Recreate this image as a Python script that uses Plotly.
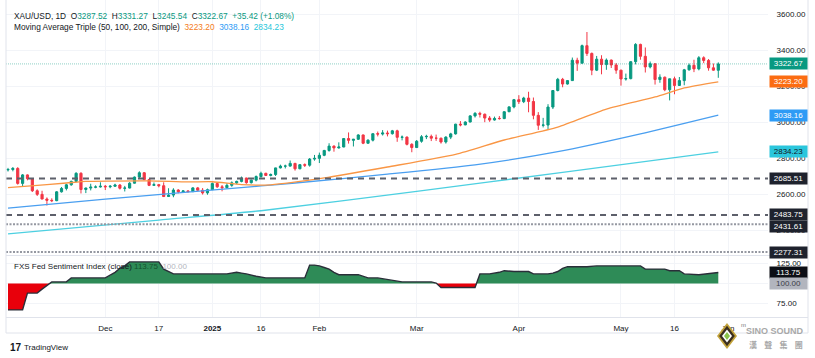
import plotly.graph_objects as go

# ---------------- data ----------------
dates = [
    "2024-11-04","2024-11-05","2024-11-06","2024-11-07","2024-11-08","2024-11-11","2024-11-12","2024-11-13","2024-11-14","2024-11-15",
    "2024-11-18","2024-11-19","2024-11-20","2024-11-21","2024-11-22","2024-11-25","2024-11-26","2024-11-27","2024-11-28","2024-11-29",
    "2024-12-02","2024-12-03","2024-12-04","2024-12-05","2024-12-06","2024-12-09","2024-12-10","2024-12-11","2024-12-12","2024-12-13",
    "2024-12-16","2024-12-17","2024-12-18","2024-12-19","2024-12-20","2024-12-23","2024-12-24","2024-12-25","2024-12-26","2024-12-27",
    "2024-12-30","2024-12-31",
    "2025-01-02","2025-01-03","2025-01-06","2025-01-07","2025-01-08","2025-01-09","2025-01-10","2025-01-13","2025-01-14","2025-01-15",
    "2025-01-16","2025-01-17","2025-01-20","2025-01-21","2025-01-22","2025-01-23","2025-01-24","2025-01-27","2025-01-28","2025-01-29",
    "2025-01-30","2025-01-31",
    "2025-02-03","2025-02-04","2025-02-05","2025-02-06","2025-02-07","2025-02-10","2025-02-11","2025-02-12","2025-02-13","2025-02-14",
    "2025-02-17","2025-02-18","2025-02-19","2025-02-20","2025-02-21","2025-02-24","2025-02-25","2025-02-26","2025-02-27","2025-02-28",
    "2025-03-03","2025-03-04","2025-03-05","2025-03-06","2025-03-07","2025-03-10","2025-03-11","2025-03-12","2025-03-13","2025-03-14",
    "2025-03-17","2025-03-18","2025-03-19","2025-03-20","2025-03-21","2025-03-24","2025-03-25","2025-03-26","2025-03-27","2025-03-28",
    "2025-03-31",
    "2025-04-01","2025-04-02","2025-04-03","2025-04-04","2025-04-07","2025-04-08","2025-04-09","2025-04-10","2025-04-11","2025-04-14",
    "2025-04-15","2025-04-16","2025-04-17","2025-04-21","2025-04-22","2025-04-23","2025-04-24","2025-04-25","2025-04-28","2025-04-29",
    "2025-04-30",
    "2025-05-01","2025-05-02","2025-05-05","2025-05-06","2025-05-07","2025-05-08","2025-05-09","2025-05-12","2025-05-13","2025-05-14",
    "2025-05-15","2025-05-16","2025-05-19","2025-05-20","2025-05-21","2025-05-22","2025-05-23","2025-05-26","2025-05-27","2025-05-28",
    "2025-05-29",
]
future_dates = ["2025-05-30", "2025-06-02"]

open_ = [
    2734,2736,2742,2659,2706,2685,2618,2598,2572,2565,2563,2612,2631,2651,2670,2715,2625,2633,2638,2639,
    2643,2640,2643,2650,2632,2633,2660,2694,2718,2680,2648,2652,2646,2586,2594,2622,2612,2617,2613,2634,2621,2606,
    2624,2658,2640,2635,2648,2662,2670,2689,2663,2677,2697,2715,2703,2708,2745,2755,2755,2770,2740,2763,2760,2794,
    2798,2815,2842,2866,2856,2861,2908,2898,2904,2928,2882,2899,2935,2933,2939,2935,2951,2915,2916,2876,
    2858,2893,2918,2920,2910,2910,2889,2916,2934,2988,2984,3000,3034,3048,3043,3022,3011,3020,3019,3057,3084,
    3124,3113,3133,3114,3037,2982,2983,3083,3175,3237,3211,3230,3343,3327,3424,3381,3288,3349,3319,3344,3317,
    3288,3239,3241,3335,3431,3365,3306,3324,3236,3249,3179,3240,3203,3230,3290,3315,3295,3357,3342,3301,3287.52,
]
high = [
    2745,2750,2749,2711,2709,2688,2626,2618,2581,2576,2616,2639,2656,2674,2721,2721,2636,2657,2648,2665,
    2650,2650,2657,2655,2645,2666,2697,2726,2722,2684,2664,2654,2665,2632,2632,2627,2620,2621,2638,2639,2633,2630,
    2664,2665,2650,2660,2670,2674,2697,2690,2680,2703,2724,2718,2714,2746,2763,2763,2786,2773,2765,2770,2800,2817,
    2830,2845,2882,2870,2887,2911,2942,2906,2932,2930,2904,2936,2947,2955,2952,2956,2957,2925,2920,2882,
    2900,2927,2929,2930,2930,2913,2921,2940,2990,3005,3004,3038,3055,3057,3047,3033,3030,3033,3060,3087,3128,
    3149,3140,3168,3136,3055,3023,3099,3175,3245,3245,3233,3358,3357,3430,3500,3386,3367,3371,3353,3347,3328,
    3290,3269,3337,3438,3435,3414,3336,3324,3265,3252,3241,3252,3250,3295,3325,3346,3366,3365,3350,3325,3331.27,
]
low = [
    2725,2726,2652,2643,2676,2611,2589,2571,2536,2555,2560,2608,2620,2646,2666,2603,2605,2620,2632,2636,
    2622,2632,2639,2625,2614,2631,2658,2688,2677,2644,2647,2637,2583,2584,2582,2604,2607,2610,2612,2617,2597,2596,
    2622,2634,2615,2630,2640,2655,2665,2657,2658,2670,2690,2700,2698,2700,2742,2742,2752,2730,2738,2750,2752,2785,
    2772,2810,2835,2835,2852,2860,2880,2864,2900,2877,2880,2892,2920,2925,2920,2930,2890,2898,2870,2832,
    2856,2885,2905,2894,2895,2880,2880,2905,2930,2976,2982,2998,3025,3025,2999,3001,3008,3013,3016,3055,3076,
    3100,3105,3054,3015,2956,2970,2957,3072,3170,3193,3208,3228,3284,3325,3367,3260,3283,3265,3290,3300,3268,
    3202,3230,3237,3320,3346,3275,3298,3208,3218,3171,3120,3154,3200,3204,3285,3277,3287,3327,3285,3285,3245.54,
]
close = [
    2736,2742,2659,2706,2685,2618,2598,2572,2565,2563,2612,2631,2651,2670,2715,2625,2633,2638,2639,2643,
    2640,2643,2650,2632,2633,2660,2694,2718,2680,2648,2652,2646,2586,2594,2622,2612,2617,2613,2634,2621,2606,2624,
    2658,2640,2635,2648,2662,2670,2689,2663,2677,2697,2715,2703,2708,2745,2755,2755,2770,2740,2763,2760,2794,2798,
    2815,2842,2866,2856,2861,2908,2898,2904,2928,2882,2899,2935,2933,2939,2935,2951,2915,2916,2876,2858,
    2893,2918,2920,2910,2910,2889,2916,2934,2988,2984,3000,3034,3048,3043,3022,3011,3020,3019,3057,3084,3124,
    3113,3133,3114,3037,2982,2983,3083,3175,3237,3211,3230,3343,3327,3424,3381,3288,3349,3319,3344,3317,3288,
    3239,3241,3335,3431,3365,3306,3324,3236,3249,3179,3240,3203,3230,3290,3315,3295,3357,3342,3301,3288,3322.67,
]

# Moving averages
sma50_dates = ["2024-11-04","2024-11-08","2024-11-20","2024-11-26","2024-12-03","2024-12-13","2024-12-25","2025-01-02",
               "2025-01-10","2025-01-20","2025-02-04","2025-02-21","2025-03-13","2025-03-27","2025-04-11","2025-04-28",
               "2025-05-12","2025-05-20","2025-05-29"]
sma50_vals = [2635,2644,2661,2670,2672,2673,2667,2668,2652,2651,2689,2750,2820,2900,2972,3072,3139,3189,3223.20]
sma100_dates = ["2024-11-04","2024-12-02","2025-01-16","2025-01-27","2025-02-21","2025-03-19","2025-04-11","2025-05-07","2025-05-29"]
sma100_vals = [2522,2572,2645,2661,2710,2762,2835,2934,3038.16]
sma200_dates = ["2024-11-04","2024-12-17","2025-01-16","2025-03-03","2025-04-14","2025-05-29"]
sma200_vals = [2378,2455,2507,2615,2720,2834.23]

# FXS Fed Sentiment Index (close)
sent_dates = ["2024-11-04","2024-11-07","2024-11-08","2024-11-12","2024-11-13","2024-11-14","2024-11-15","2024-11-20",
              "2024-11-21","2024-12-02","2024-12-03","2024-12-04","2024-12-05","2024-12-06","2024-12-09","2024-12-17",
              "2024-12-18","2024-12-19","2024-12-20","2025-01-07","2025-01-08","2025-01-09","2025-01-10","2025-01-13",
              "2025-01-15","2025-01-17","2025-01-29","2025-01-30","2025-01-31","2025-02-03","2025-02-04","2025-02-05",
              "2025-02-06","2025-02-07","2025-02-13","2025-02-17","2025-02-19","2025-02-20","2025-02-21","2025-02-25",
              "2025-02-26","2025-03-06","2025-03-07","2025-03-10","2025-03-19","2025-03-20","2025-03-24","2025-03-26",
              "2025-03-27","2025-03-31","2025-04-03","2025-04-04","2025-04-09","2025-04-10","2025-04-11","2025-04-14",
              "2025-04-15","2025-04-22","2025-04-24","2025-05-07","2025-05-08","2025-05-14","2025-05-15","2025-05-19",
              "2025-05-20","2025-05-23","2025-05-27","2025-05-28","2025-05-29"]
sent_vals = [67,67,88,88,93,98,102,102,
             107,107,110,114,119,122,127,127,
             118,115,112,112,113,114,113,112,
             109,107,107,123,123,122,120,118,
             114,111,111,107,107,106,105,103,
             102,102,100.5,95,95,112,112,114,
             116,115,115,112,112,113,115,119,
             121,121,122,122,118,118,116,116,
             112,111,112,112.5,113.75]

price_levels = [2685.51, 2483.75, 2431.61, 2277.31]
level_styles = ["dash", "dash", "dot", "dot"]

tick_dates = ["2024-12-02","2024-12-17","2025-01-02","2025-01-16","2025-02-03","2025-03-03","2025-04-01","2025-05-01","2025-05-16","2025-06-02"]
tick_text = ["Dec","17","<b>2025</b>","16","Feb","Mar","Apr","May","16","Jun"]
price_ticks = [2400, 2600, 2800, 3000, 3200, 3400, 3600]
sent_ticks = [75, 100, 125]

# ---------------- helpers ----------------
W, H = 815, 358
pos = {d: i for i, d in enumerate(dates + future_dates)}
def px(x):
    return x / W
def py(y):
    return 1 - y / H

UP, DOWN = "#089981", "#F23645"
FONT = "Liberation Sans, Arial, sans-serif"
TXT = "#131722"
GRID = "#f2f4f8"

X_L, X_R = 6, 768
bar_w = 4.865
x_range = [(X_L - 8) / bar_w, (X_R - 8) / bar_w]

fig = go.Figure()

# candles
fig.add_trace(go.Candlestick(
    x=[pos[d] for d in dates], open=open_, high=high, low=low, close=close,
    increasing=dict(line=dict(color=UP, width=1), fillcolor=UP),
    decreasing=dict(line=dict(color=DOWN, width=1), fillcolor=DOWN),
    whiskerwidth=0, xaxis="x", yaxis="y", hoverinfo="skip"))

# moving averages
for dd, vv, col in [(sma200_dates, sma200_vals, "#4dd0e1"),
                    (sma100_dates, sma100_vals, "#4a9ff0"),
                    (sma50_dates, sma50_vals, "#f99645")]:
    fig.add_trace(go.Scatter(x=[pos[d] for d in dd], y=vv, mode="lines",
                             line=dict(color=col, width=1.3, shape="spline", smoothing=0.6),
                             xaxis="x", yaxis="y", hoverinfo="skip"))

# sentiment fill split at 100
sx = [pos[d] for d in sent_dates]
xs, ys = [sx[0]], [sent_vals[0]]
for i in range(1, len(sx)):
    x0, y0, x1, y1 = sx[i-1], sent_vals[i-1], sx[i], sent_vals[i]
    if (y0 - 100) * (y1 - 100) < 0:
        t = (100 - y0) / (y1 - y0)
        xs.append(x0 + t * (x1 - x0)); ys.append(100)
    xs.append(x1); ys.append(y1)
n = len(xs)
fig.add_trace(go.Scatter(x=xs + xs[::-1], y=[max(v, 100) for v in ys] + [100] * n, fill="toself",
                         fillcolor="#2e8b57", line=dict(width=0), mode="lines",
                         xaxis="x2", yaxis="y2", hoverinfo="skip"))
fig.add_trace(go.Scatter(x=xs + xs[::-1], y=[min(v, 100) for v in ys] + [100] * n, fill="toself",
                         fillcolor="#e8000b", line=dict(width=0), mode="lines",
                         xaxis="x2", yaxis="y2", hoverinfo="skip"))
fig.add_trace(go.Scatter(x=sx, y=sent_vals, mode="lines", line=dict(color="#2a2e39", width=1.4),
                         xaxis="x2", yaxis="y2", hoverinfo="skip"))

shapes = []
# horizontal levels
for lv, st in zip(price_levels, level_styles):
    if st == "dash":
        shapes.append(dict(type="line", xref="paper", yref="y", x0=px(X_L), x1=px(X_R), y0=lv, y1=lv,
                           line=dict(color="#5d606b", width=2, dash="6px,5px")))
    else:
        shapes.append(dict(type="line", xref="paper", yref="y", x0=px(X_L), x1=px(X_R), y0=lv, y1=lv,
                           line=dict(color="#9598a1", width=2, dash="2px,1.5px")))
# last price line
shapes.append(dict(type="line", xref="paper", yref="y", x0=px(X_L), x1=px(X_R), y0=close[-1], y1=close[-1],
                   line=dict(color="rgba(8,153,129,0.45)", width=1, dash="1px,1px")))
# 100 baseline
shapes.append(dict(type="line", xref="paper", yref="y2", x0=px(X_L), x1=px(X_R), y0=100, y1=100,
                   line=dict(color="#b2b5be", width=1, dash="2px,2px"), layer="below"))
# frame lines
FR = "#e0e3eb"
for yline in [255.5, 317.5, 333]:
    shapes.append(dict(type="line", xref="paper", yref="paper", x0=px(X_L), x1=px(808), y0=py(yline), y1=py(yline),
                       line=dict(color=FR, width=1)))
for xline in [X_L, 808]:
    shapes.append(dict(type="line", xref="paper", yref="paper", x0=px(xline), x1=px(xline), y0=py(0), y1=py(333),
                       line=dict(color=FR, width=1)))

# watermark diamond logo
cx, cy = 727, 336
for s, col in [(1.0, "#c2a23a"), (0.78, "#3b2e1e"), (0.5, "#ffffff"), (0.3, "#8bc34a")]:
    hw, hh = 10 * s, 13 * s
    path = "M {} {} L {} {} L {} {} L {} {} Z".format(
        px(cx), py(cy - hh), px(cx + hw), py(cy), px(cx), py(cy + hh), px(cx - hw), py(cy))
    shapes.append(dict(type="path", xref="paper", yref="paper", path=path, fillcolor=col, line=dict(width=0)))

ann = []
def t(x, y, text, size=8, color=TXT, xanchor="left", family=FONT):
    ann.append(dict(xref="paper", yref="paper", x=px(x), y=py(y), text=text, showarrow=False,
                    xanchor=xanchor, yanchor="middle", font=dict(size=size, color=color, family=family)))

sp = "&nbsp;"
def c(v, col):
    return "<span style='color:{}'>{}</span>".format(col, v)
t(12, 16, "XAU/USD, 1D" + sp * 2 + "O" + c("3287.52", UP) + sp * 2 + "H" + c("3331.27", UP) + sp * 2 +
  "L" + c("3245.54", UP) + sp * 2 + "C" + c("3322.67", UP) + sp * 2 + c("+35.42 (+1.08%)", UP), size=8.3)
t(12, 27, "Moving Average Triple (50, 100, 200, Simple)" + sp * 2 + c("3223.20", "#f47b20") + sp * 2 +
  c("3038.16", "#2e9bf5") + sp * 2 + c("2834.23", "#26c6da"), size=8.3)
t(12, 266, "FXS Fed Sentiment Index (close)" + sp + c("113.75", "#14532d") + sp * 2 + c("100.00", "#b2b5be"))

# TradingView logo
t(8, 347, "<b>17</b>", size=10, color=TXT)
t(22, 347, "TradingView", size=8, color=TXT)
# SINO SOUND watermark
t(775, 331, "<b>SINO SOUND</b>", size=9, color="#a8a8a8", xanchor="center")
t(776, 344, "<b>漢" + sp * 4 + "聲" + sp * 4 + "集" + sp * 4 + "團</b>", size=8, color="#a8a8a8",
  xanchor="center", family="Noto Sans CJK TC")
t(739, 325, "m", size=6, color="#777777")

# right-axis value boxes
def box(v, yref, bg, fg, yshift=0):
    ann.append(dict(xref="paper", yref=yref, x=px(769), y=v, text="{:.2f}".format(v), showarrow=False,
                    xanchor="left", yanchor="middle", bgcolor=bg, width=36, height=10, borderpad=0.5,
                    yshift=yshift, font=dict(size=8, color=fg, family=FONT)))
box(close[-1], "y", UP, "#ffffff")
box(sma50_vals[-1], "y", "#fb6c12", "#ffffff")
box(sma100_vals[-1], "y", "#2e9bf5", "#ffffff")
box(sma200_vals[-1], "y", "#2bc6dc", TXT)
box(2685.51, "y", "#1e222d", "#ffffff")
box(2483.75, "y", "#1e222d", "#ffffff")
box(2431.61, "y", "#1e222d", "#ffffff", yshift=-2)
box(2277.31, "y", "#1e222d", "#ffffff")
box(sent_vals[-1], "y2", "#0c0e15", "#ffffff")
box(100.00, "y2", "#b2b5be", "#3a3d47")

tickpos = [pos[d] for d in tick_dates]

# price axis mapping: y_px = 50 + (3400 - p) * 0.18
p_top = 3400 + (50 - 0) / 0.18
p_bot = 3400 - (255 - 50) / 0.18
s_top = 100 + (283.5 - 256) / 0.8
s_bot = 100 - (317 - 283.5) / 0.8

fig.update_layout(
    width=W, height=H, margin=dict(l=0, r=0, t=0, b=0),
    paper_bgcolor="white", plot_bgcolor="white", showlegend=False,
    boxgap=0.36,
    font=dict(family=FONT, size=8, color=TXT),
    xaxis=dict(domain=[px(X_L), px(X_R)], range=x_range, anchor="y", tickvals=tickpos, showticklabels=False,
               showgrid=True, gridcolor=GRID, zeroline=False, rangeslider=dict(visible=False), fixedrange=True),
    xaxis2=dict(domain=[px(X_L), px(X_R)], range=x_range, anchor="y2", matches="x", tickvals=tickpos,
                ticktext=tick_text, showgrid=True, gridcolor=GRID, zeroline=False,
                ticks="outside", ticklen=3, tickcolor="rgba(0,0,0,0)",
                tickfont=dict(size=8, color=TXT, family=FONT)),
    yaxis=dict(domain=[py(255), py(0)], range=[p_bot, p_top], anchor="x", side="right",
               tickvals=price_ticks, ticktext=["{:.2f}".format(v) for v in price_ticks],
               showgrid=True, gridcolor=GRID, zeroline=False, ticks="outside", ticklen=6,
               tickcolor="rgba(0,0,0,0)", tickfont=dict(size=8, color=TXT, family=FONT)),
    yaxis2=dict(domain=[py(317), py(256)], range=[s_bot, s_top], anchor="x2", side="right",
                tickvals=sent_ticks, ticktext=["{:.2f}".format(v) for v in sent_ticks],
                showgrid=True, gridcolor=GRID, zeroline=False, ticks="outside", ticklen=6,
                tickcolor="rgba(0,0,0,0)", tickfont=dict(size=8, color=TXT, family=FONT)),
    shapes=shapes, annotations=ann,
)

fig.write_html("out.html", config={"displayModeBar": False},
               post_script="document.body.style.margin='0';document.body.style.overflow='hidden';")
